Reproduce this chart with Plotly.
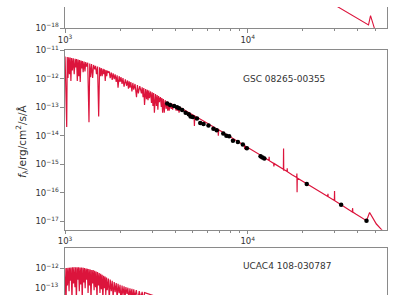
import plotly.graph_objects as go

# ---------------- data (log10 of wavelength in Angstrom, log10 of flux) ----------------
# top panel: only the long-wavelength tail of the model is visible
top_model = [(4.403, -16.911), (4.495, -17.259), (4.564, -17.535), (4.618, -17.730),
             (4.661, -17.889), (4.672, -17.562), (4.693, -18.000), (4.715, -18.169)]

# middle panel: GSC 08265-00355 model spectrum
gsc_model = [
    (3.000, -11.219), (3.009, -13.696), (3.012, -11.237), (3.016, -11.977), (3.020, -11.247),
    (3.024, -11.843), (3.028, -11.259), (3.032, -12.078), (3.036, -11.270), (3.040, -11.708),
    (3.045, -11.283), (3.050, -11.843), (3.055, -11.297), (3.059, -11.607), (3.063, -11.311),
    (3.067, -12.078), (3.071, -11.328), (3.075, -11.910), (3.079, -11.344), (3.083, -12.112),
    (3.087, -11.361), (3.091, -11.640), (3.095, -11.377), (3.099, -11.775), (3.104, -11.397),
    (3.109, -11.741), (3.113, -11.416), (3.118, -11.573), (3.124, -11.438), (3.131, -13.528),
    (3.135, -11.463), (3.140, -11.944), (3.145, -11.489), (3.151, -11.977), (3.156, -11.518),
    (3.163, -11.674), (3.167, -11.545), (3.172, -11.843), (3.178, -11.573), (3.184, -13.325),
    (3.189, -11.600), (3.194, -11.910), (3.198, -11.623), (3.203, -11.910), (3.208, -11.649),
    (3.212, -11.843), (3.216, -11.674), (3.220, -12.078), (3.224, -11.698), (3.228, -11.910),
    (3.232, -11.720), (3.237, -11.775), (3.242, -11.749), (3.247, -11.977), (3.253, -11.780),
    (3.258, -12.045), (3.263, -11.812), (3.269, -12.011), (3.274, -11.843), (3.280, -12.112),
    (3.285, -11.878), (3.290, -12.314), (3.296, -11.912), (3.301, -12.112), (3.306, -11.947),
    (3.312, -12.180), (3.317, -11.981), (3.323, -12.281), (3.330, -12.021), (3.337, -12.247),
    (3.342, -12.061), (3.347, -12.348), (3.351, -12.087), (3.355, -12.314), (3.360, -12.116),
    (3.366, -12.449), (3.371, -12.148), (3.376, -12.382), (3.383, -12.184), (3.391, -12.651),
    (3.396, -12.221), (3.401, -12.517), (3.409, -12.259), (3.418, -12.517), (3.422, -12.301),
    (3.427, -12.651), (3.431, -12.329), (3.435, -12.921), (3.441, -12.360), (3.446, -12.719),
    (3.450, -12.389), (3.454, -12.752), (3.458, -12.411), (3.462, -12.685), (3.468, -12.447),
    (3.473, -12.854), (3.477, -12.475), (3.481, -12.955), (3.485, -12.504), (3.489, -13.191),
    (3.495, -12.538), (3.500, -12.955), (3.504, -12.575), (3.508, -13.089), (3.512, -12.607),
    (3.516, -12.820), (3.522, -12.646), (3.527, -12.988), (3.530, -12.680), (3.534, -13.191),
    (3.538, -12.713), (3.543, -13.191), (3.548, -12.753), (3.554, -13.056), (3.558, -12.790),
    (3.562, -13.123), (3.566, -12.815), (3.570, -13.123), (3.575, -12.844), (3.581, -13.056),
    (3.585, -12.872), (3.589, -13.089), (3.593, -12.895), (3.597, -12.988), (3.602, -12.925),
    (3.608, -13.123), (3.612, -12.952), (3.616, -13.123), (3.620, -12.974), (3.624, -13.191),
    (3.629, -13.006), (3.634, -13.022),
    (3.667, -13.147), (3.706, -13.298), (3.708, -13.662), (3.710, -13.308), (3.758, -13.484),
    (3.837, -13.784), (3.839, -13.999), (3.841, -13.794), (3.919, -14.101), (3.981, -14.343),
    (3.983, -14.471), (3.984, -14.353), (4.069, -14.680), (4.070, -14.808), (4.071, -14.687),
    (4.081, -14.731), (4.116, -14.869), (4.117, -14.741), (4.118, -14.876), (4.142, -14.974),
    (4.143, -15.078), (4.145, -14.980), (4.195, -15.179), (4.196, -14.448), (4.197, -15.230),
    (4.198, -15.189), (4.215, -15.257), (4.216, -15.146), (4.217, -15.263), (4.242, -15.368),
    (4.268, -15.469), (4.269, -15.331), (4.270, -15.988), (4.271, -15.483), (4.323, -15.685),
    (4.403, -16.002), (4.438, -16.136), (4.439, -16.039), (4.440, -16.143), (4.474, -16.275),
    (4.475, -15.944), (4.476, -16.281), (4.511, -16.426), (4.572, -16.679), (4.574, -16.544),
    (4.575, -16.682), (4.591, -16.750), (4.634, -16.918), (4.650, -16.982), (4.667, -16.696),
    (4.683, -16.864), (4.704, -17.100), (4.726, -17.252), (4.747, -17.404),
]

# middle panel: GSC 08265-00355 photometry
gsc_phot_logwave = [3.559, 3.575, 3.597, 3.613, 3.624, 3.641, 3.660, 3.677, 3.687, 3.699,
                    3.722, 3.740, 3.758, 3.785, 3.812, 3.830, 3.866, 3.883, 3.898, 3.919,
                    3.946, 3.973, 3.995, 4.070, 4.081, 4.091, 4.323, 4.511, 4.650]
gsc_phot_logflux = [-12.871, -12.921, -12.955, -13.005, -13.039, -13.100, -13.191, -13.248, -13.326, -13.342,
                    -13.393, -13.551, -13.585, -13.639, -13.753, -13.807, -13.922, -13.999, -14.016, -14.178,
                    -14.225, -14.313, -14.438, -14.724, -14.765, -14.798, -15.695, -16.426, -16.989]

# bottom panel: UCAC4 108-030787 model spectrum (upper part only visible)
ucac_model = [
    (3.000, -12.000), (3.005, -13.281), (3.009, -11.993), (3.013, -12.607), (3.017, -11.987),
    (3.022, -12.809), (3.025, -11.983), (3.030, -12.438), (3.033, -11.976), (3.038, -13.112),
    (3.041, -11.970), (3.046, -12.539), (3.049, -11.966), (3.054, -12.674), (3.058, -11.970),
    (3.062, -13.146), (3.066, -11.970), (3.070, -12.404), (3.074, -11.973), (3.078, -12.809),
    (3.082, -11.976), (3.086, -12.573), (3.090, -11.980), (3.094, -13.112), (3.098, -11.983),
    (3.102, -12.506), (3.106, -11.997), (3.110, -12.708), (3.114, -12.010), (3.118, -12.404),
    (3.122, -12.024), (3.126, -12.876), (3.130, -12.034), (3.134, -12.607), (3.138, -12.047),
    (3.142, -13.146), (3.146, -12.064), (3.151, -12.539), (3.154, -12.071), (3.159, -12.775),
    (3.162, -12.091), (3.167, -12.674), (3.170, -12.118), (3.175, -13.112), (3.178, -12.138),
    (3.183, -12.607), (3.187, -12.169), (3.191, -12.876), (3.195, -12.202), (3.199, -12.741),
    (3.203, -12.233), (3.207, -13.146), (3.211, -12.266), (3.215, -12.708), (3.219, -12.296),
    (3.223, -12.944), (3.227, -12.327), (3.231, -12.775), (3.237, -12.364), (3.242, -13.112),
    (3.247, -12.404), (3.253, -12.809), (3.258, -12.445), (3.263, -13.011), (3.269, -12.485),
    (3.274, -12.843), (3.280, -12.522), (3.285, -13.078), (3.290, -12.553), (3.296, -12.876),
    (3.301, -12.583), (3.306, -13.146), (3.312, -12.613), (3.317, -12.944), (3.323, -12.640),
    (3.328, -13.078), (3.333, -12.667), (3.339, -12.910), (3.344, -12.687), (3.349, -13.112),
    (3.355, -12.708), (3.360, -12.977), (3.366, -12.728), (3.371, -13.146), (3.376, -12.748),
    (3.382, -13.011), (3.390, -12.775), (3.398, -13.146), (3.406, -12.805), (3.414, -13.045),
    (3.422, -12.836), (3.430, -13.180), (3.435, -12.859), (3.489, -12.960), (3.597, -13.213),
]

x_tickvals = [1e3, 1e4]
x_ticktext = ["10<sup>3</sup>", "10<sup>4</sup>"]
x_minor = [2000, 3000, 4000, 5000, 6000, 7000, 8000, 9000, 20000, 30000, 40000, 50000]
top_yticks = [1e-18]
top_yticktext = ["10<sup>\u221218</sup>"]
mid_yticks = [1e-11, 1e-12, 1e-13, 1e-14, 1e-15, 1e-16, 1e-17]
mid_yticktext = ["10<sup>\u221211</sup>", "10<sup>\u221212</sup>", "10<sup>\u221213</sup>",
                 "10<sup>\u221214</sup>", "10<sup>\u221215</sup>", "10<sup>\u221216</sup>",
                 "10<sup>\u221217</sup>"]
bot_yticks = [1e-12]
bot_yticktext = ["10<sup>\u221212</sup>"]
bot_cut_label = "10<sup>\u221213</sup>"   # tick label of the bottom panel at the image edge
labels = ["GSC 08265-00355", "UCAC4 108-030787"]


def unlog(pairs):
    return [10 ** a for a, _ in pairs], [10 ** b for _, b in pairs]


MODEL_COLOR = "crimson"
AXC = "#8a8a8a"
FONT = "DejaVu Sans"
TXT = "#333333"
TICKFONT = dict(family=FONT, size=8.5, color=TXT)

fig = go.Figure()

tx, ty = unlog(top_model)
fig.add_trace(go.Scatter(x=tx, y=ty, mode="lines", line=dict(color=MODEL_COLOR, width=1.1),
                         xaxis="x", yaxis="y", hoverinfo="skip"))
gx, gy = unlog(gsc_model)
fig.add_trace(go.Scatter(x=gx, y=gy, mode="lines", line=dict(color=MODEL_COLOR, width=1.2),
                         xaxis="x2", yaxis="y2", hoverinfo="skip"))
fig.add_trace(go.Scatter(x=[10 ** v for v in gsc_phot_logwave], y=[10 ** v for v in gsc_phot_logflux],
                         mode="markers", marker=dict(color="black", size=4.5),
                         xaxis="x2", yaxis="y2", cliponaxis=True, hoverinfo="skip"))
ux, uy = unlog(ucac_model)
fig.add_trace(go.Scatter(x=ux, y=uy, mode="lines", line=dict(color=MODEL_COLOR, width=1.2),
                         xaxis="x3", yaxis="y3", hoverinfo="skip"))

XDOM = [59 / 400, 387 / 400]
XRANGE = [2.9995, 4.7634]


def xaxis(anchor, show_labels=True, side="bottom", mirror=True, ticks="outside"):
    return dict(type="log", range=XRANGE, domain=XDOM, anchor=anchor, side=side,
                showline=True, linecolor=AXC, linewidth=1, mirror=mirror,
                ticks=ticks, ticklen=3.5, tickcolor=AXC, tickwidth=1,
                tickvals=x_tickvals if show_labels else [], ticktext=x_ticktext if show_labels else [],
                showticklabels=show_labels, tickfont=TICKFONT,
                minor=dict(tickvals=x_minor if show_labels else [], ticks=ticks, ticklen=2,
                           tickcolor=AXC, showgrid=False),
                showgrid=False, zeroline=False)


def yaxis(anchor, dom, rng, tv, tt):
    return dict(type="log", range=rng, domain=dom, anchor=anchor,
                showline=True, linecolor=AXC, linewidth=1, mirror=True,
                ticks="outside", ticklen=3.5, tickcolor=AXC, tickwidth=1,
                tickvals=tv, ticktext=tt, tickfont=TICKFONT,
                showgrid=False, zeroline=False)


fig.update_layout(
    width=400, height=300,
    margin=dict(l=0, r=0, t=0, b=0),
    paper_bgcolor="white", plot_bgcolor="white",
    showlegend=False,
    font=dict(family=FONT, color=TXT),
    xaxis=xaxis("y", mirror=False),
    yaxis=yaxis("x", [1 - 22 / 300, 1.0], [-18.001, -17.258], top_yticks, top_yticktext),
    xaxis2=xaxis("y2"),
    yaxis2=yaxis("x2", [1 - 232 / 300, 1 - 45 / 300], [-17.30, -10.999], mid_yticks, mid_yticktext),
    xaxis3=xaxis("y3", show_labels=False, side="top", mirror=False, ticks=""),
    yaxis3=yaxis("x3", [0.0, 1 - 251 / 300], [-12.944, -11.292], bot_yticks, bot_yticktext),
    annotations=[
        dict(text=labels[0], x=282 / 400, y=1 - 75 / 300, xref="paper", yref="paper",
             xanchor="center", yanchor="middle",
             showarrow=False, font=dict(family=FONT, size=9, color=TXT)),
        dict(text=labels[1], x=285 / 400, y=1 - 270 / 300, xref="paper", yref="paper",
             xanchor="center", yanchor="middle",
             showarrow=False, font=dict(family=FONT, size=9, color=TXT)),
        dict(text="<i>f</i><sub>\u03bb</sub>/erg/cm<sup>2</sup>/s/\u00c5", x=16 / 400,
             y=1 - 140 / 300, xref="paper", yref="paper", textangle=-90,
             xanchor="center", yanchor="middle",
             showarrow=False, font=dict(family=FONT, size=10.5, color=TXT)),
        dict(text=bot_cut_label, x=55 / 400, y=0.0, xref="paper", yref="paper",
             xanchor="right", yanchor="bottom",
             showarrow=False, font=TICKFONT),
    ],
)

fig.write_html("out.html")
